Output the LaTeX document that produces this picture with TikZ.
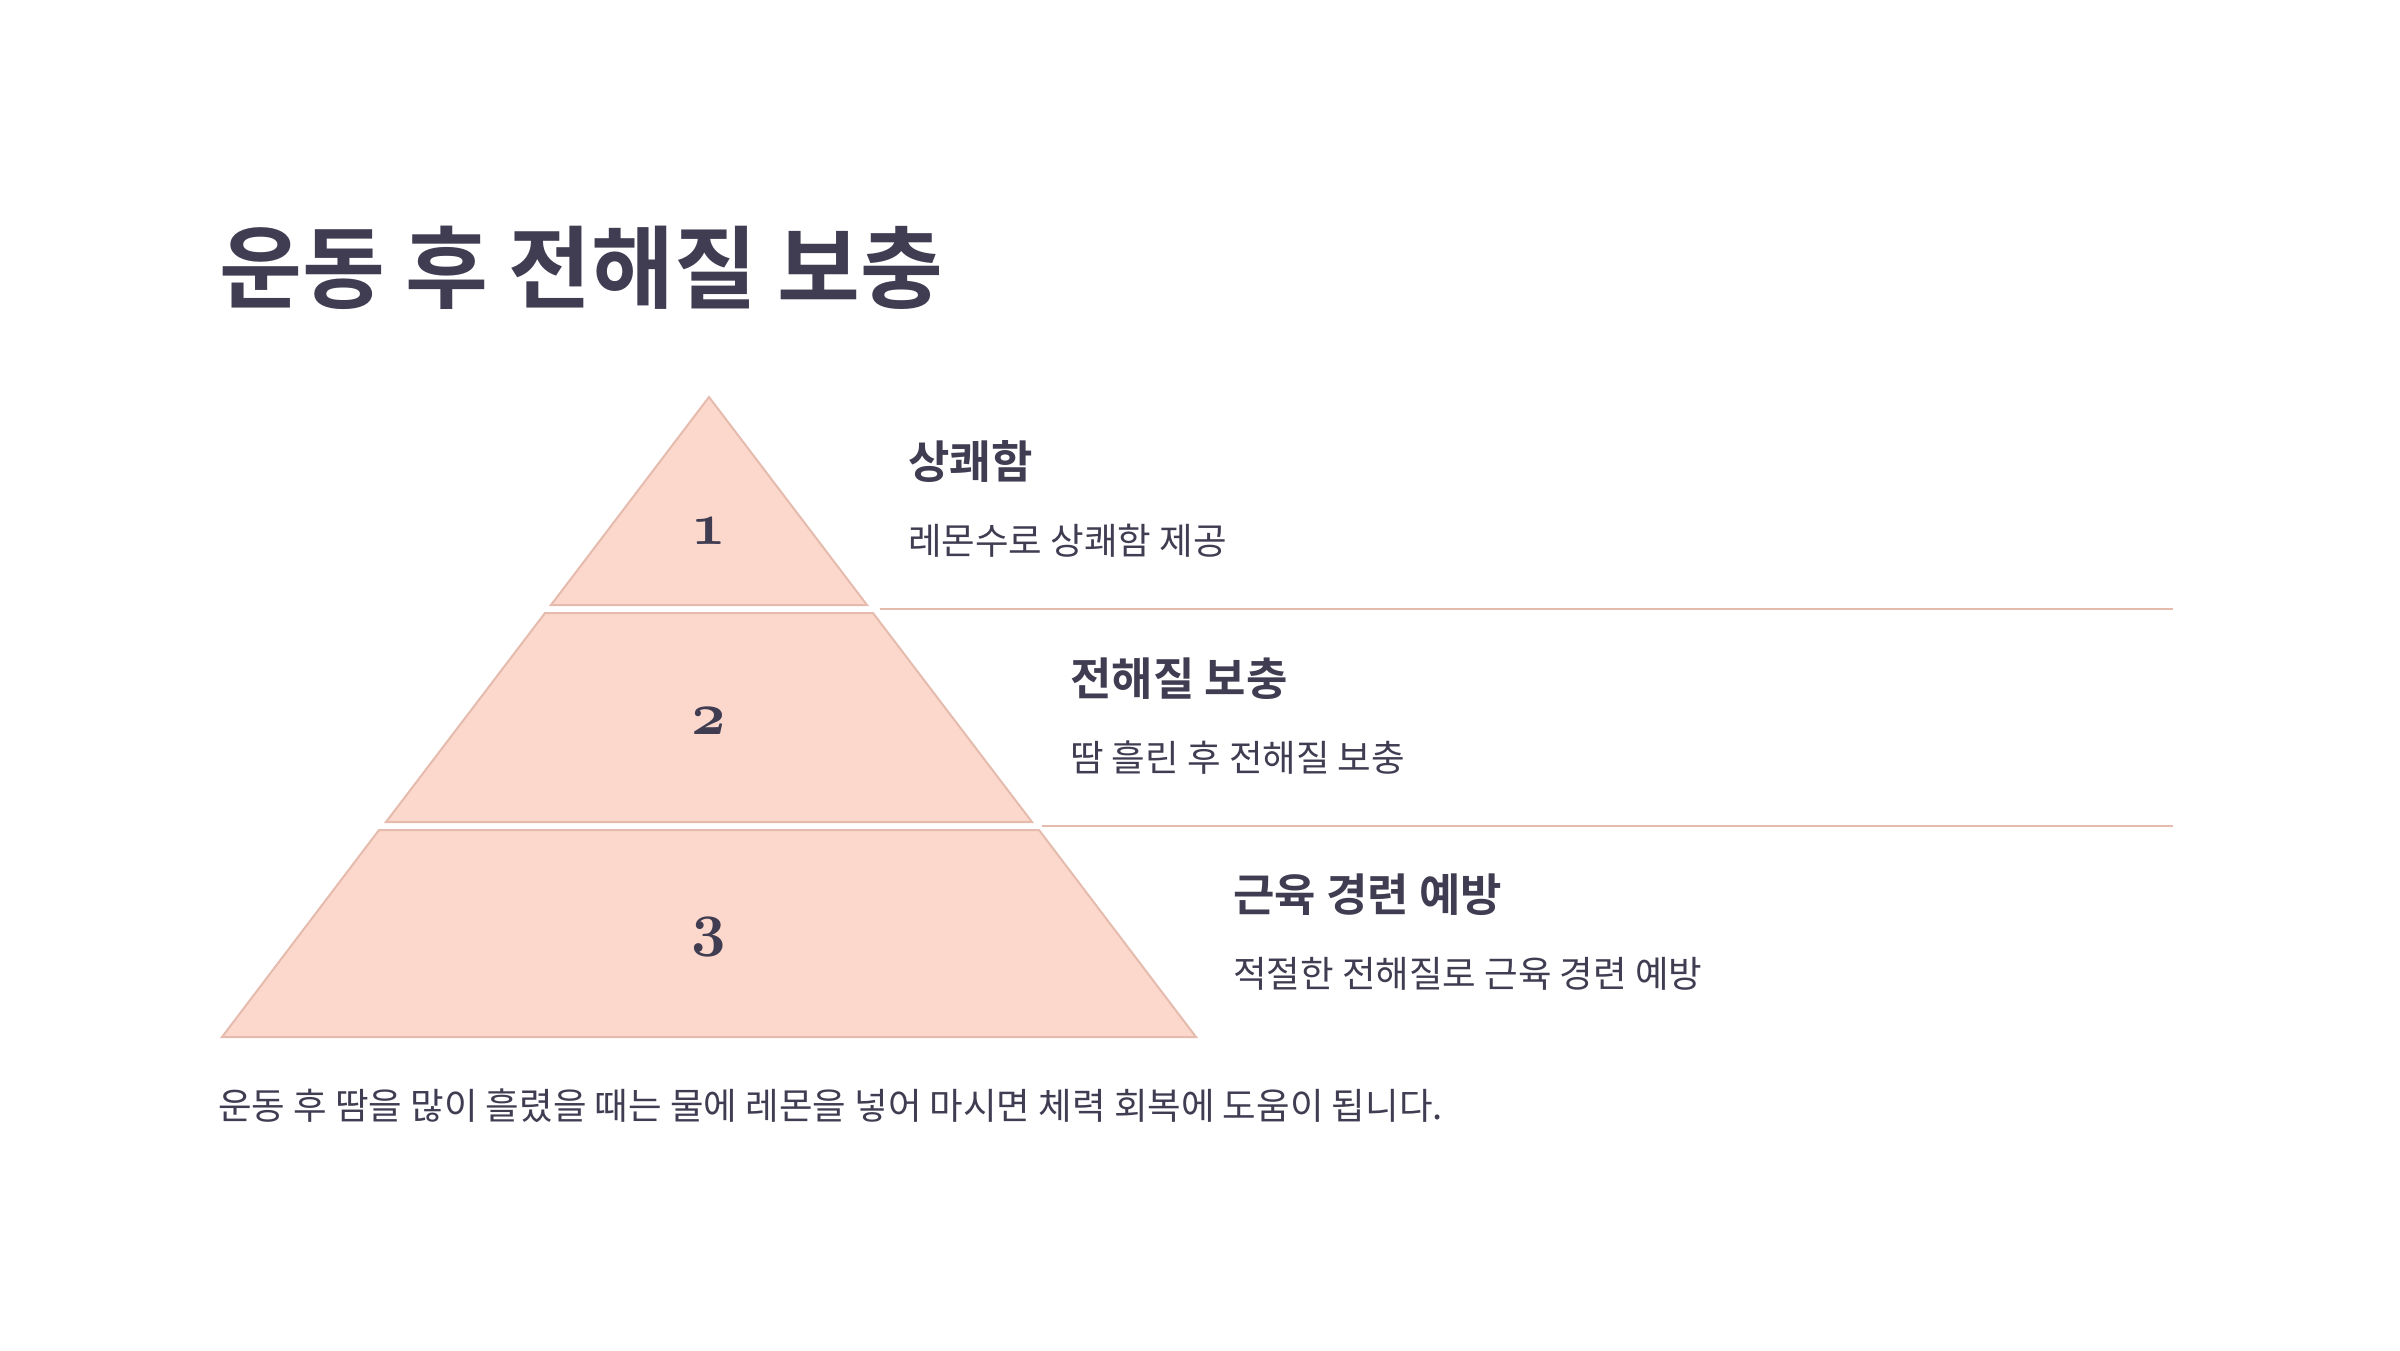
\documentclass[tikz,border=0pt]{standalone}
\usepackage{fontspec}
\setmainfont{Noto Sans CJK KR}[BoldFont={Noto Sans CJK KR Bold}]
\font\tiernumfont=cmmib10 at 60pt
\definecolor{inkslate}{HTML}{403D52}
\definecolor{tierfill}{HTML}{FCD8CC}
\definecolor{tieredge}{HTML}{E5BBAE}
\begin{document}
\begin{tikzpicture}[x=1pt,y=-1pt,
            tier/.style={fill=tierfill,draw=tieredge,line width=2pt},
            rule/.style={draw=tieredge,line width=2pt},
            tiernum/.style={text=inkslate,font=\tiernumfont,inner sep=0pt,anchor=base},
            heading/.style={text=inkslate,font=\fontsize{45}{54}\selectfont\bfseries,inner sep=0pt,anchor=west},
            desc/.style={text=inkslate,font=\fontsize{36.5}{44}\selectfont,inner sep=0pt,anchor=west}]
            \fill[white] (0,0) rectangle (2400,1350);
            \useasboundingbox (0,0) rectangle (2400,1350);
            \node[anchor=west,inner sep=0pt,text=inkslate,font=\fontsize{90}{108}\selectfont\bfseries] (title) at (219,268) {운동 후 전해질 보충};
            % pyramid
            \filldraw[tier] (709,397) -- (867,605) -- (551,605) -- cycle;
            \filldraw[tier] (545,613) -- (873,613) -- (1032,822) -- (386,822) -- cycle;
            \filldraw[tier] (379,830) -- (1039,830) -- (1196,1037) -- (222,1037) -- cycle;
            \node[tiernum] (num1) at (709,544) {1};
            \node[tiernum] (num2) at (709,734) {2};
            \node[tiernum] (num3) at (709,944) {3};
            % separators
            \coordinate (rule1west) at (880,609);
            \coordinate (rule1east) at (2173,609);
            \coordinate (rule2west) at (1042,826);
            \coordinate (rule2east) at (2173,826);
            \draw[rule] (rule1west) -- (rule1east);
            \draw[rule] (rule2west) -- (rule2east);
            % labels
            \node[heading] (head1) at (908,462) {상쾌함};
            \node[desc] (desc1) at (908,541) {레몬수로 상쾌함 제공};
            \node[heading] (head2) at (1070,679) {전해질 보충};
            \node[desc] (desc2) at (1070,758) {땀 흘린 후 전해질 보충};
            \node[heading] (head3) at (1233,895) {근육 경련 예방};
            \node[desc] (desc3) at (1233,974) {적절한 전해질로 근육 경련 예방};
            \node[desc] (footer) at (218,1106) {운동 후 땀을 많이 흘렸을 때는 물에 레몬을 넣어 마시면 체력 회복에 도움이 됩니다.};
\end{tikzpicture}
\end{document}
